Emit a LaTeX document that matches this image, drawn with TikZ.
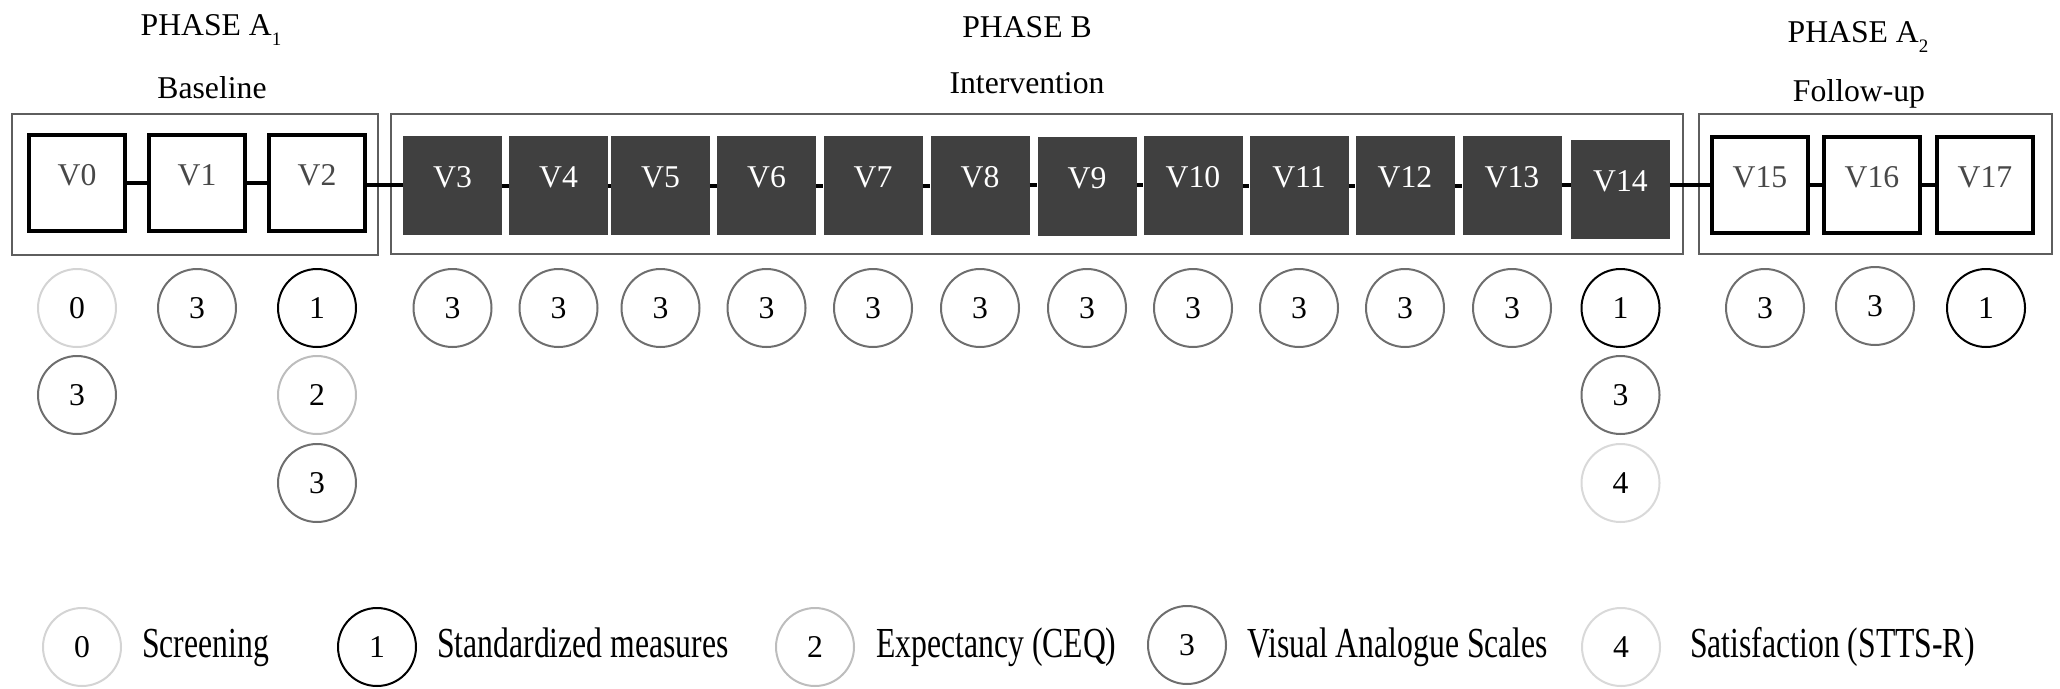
\documentclass[tikz,border=0pt]{standalone}
\usepackage{fontspec}
\setmainfont{Liberation Serif}
\newfontfamily\timesfont{Liberation Serif}
\usetikzlibrary{positioning}

\definecolor{sessiongray}{HTML}{404040}
\definecolor{visittext}{HTML}{484848}
\definecolor{framegray}{HTML}{5E5E5E}
\definecolor{meas0}{HTML}{D4D4D4}
\definecolor{meas1}{HTML}{000000}
\definecolor{meas2}{HTML}{BDBDBD}
\definecolor{meas3}{HTML}{6E6E6E}
\definecolor{meas4}{HTML}{D9D9D9}

\tikzset{
  visit/.style={rectangle, draw=black, line width=4pt, fill=white, minimum size=96pt, inner sep=0pt, text=visittext, text height=21pt, text depth=17pt},
  session/.style={rectangle, fill=sessiongray, minimum size=99pt, inner sep=0pt, text=white, text height=21pt, text depth=17pt},
  phasebox/.style={draw=framegray, line width=2pt},
  link/.style={draw=black, line width=4pt},
  measure/.style={circle, draw, line width=2pt, minimum size=78pt, inner sep=0pt},
  legtext/.style={anchor=base west, inner sep=0pt},
  title/.style={anchor=base, inner sep=0pt}
}
\newcommand{\tall}[1]{\scalebox{1}[1.35]{#1}}
\newcommand{\sub}[1]{\raisebox{-10pt}{\fontsize{19}{19}\selectfont #1}}

\begin{document}
\begin{tikzpicture}[x=1pt, y=-1pt, font=\timesfont\fontsize{31.7}{38}\selectfont]
    \useasboundingbox (0,0) rectangle (2060,688);

    % phase headings
    \node[title] at (211,35) (tA1) {PHASE A\sub{1}};
    \node[title] at (212,98) (sA1) {Baseline};
    \node[title] at (1027,37) (tB) {PHASE B};
    \node[title] at (1027,93) (sB) {Intervention};
    \node[title] at (1858,42) (tA2) {PHASE A\sub{2}};
    \node[title] at (1859,101) (sA2) {Follow-up};

    % phase frames
    \draw[phasebox] (12,114) rectangle (378,255);
    \draw[phasebox] (391,114) rectangle (1683,254);
    \draw[phasebox] (1699,114) rectangle (2052,254);

    % visits
    \node[visit] at (77,183) (V0) {V0};
    \node[visit] at (197,183) (V1) {V1};
    \node[visit] at (317,183) (V2) {V2};
    \node[session] at (452.5,185.5) (V3) {V3};
    \node[session] at (558.5,185.5) (V4) {V4};
    \node[session] at (660.5,185.5) (V5) {V5};
    \node[session] at (766.5,185.5) (V6) {V6};
    \node[session] at (873,185.5) (V7) {V7};
    \node[session] at (980,185.5) (V8) {V8};
    \node[session] at (1087,186.5) (V9) {V9};
    \node[session] at (1193,185.5) (V10) {V10};
    \node[session] at (1299,185.5) (V11) {V11};
    \node[session] at (1405,185.5) (V12) {V12};
    \node[session] at (1512,185.5) (V13) {V13};
    \node[session] at (1620.5,189) (V14) {V14};
    \node[visit] at (1760,185) (V15) {V15};
    \node[visit] at (1872,185) (V16) {V16};
    \node[visit] at (1985,185) (V17) {V17};

    \draw[link] (V0) -- (V1);
    \draw[link] (V1) -- (V2);
    \draw[link] (V2.east |- 0,185) -- (V3.west |- 0,185);
    \draw[link] (V3) -- (V4);
    \draw[link] (V4) -- (V5);
    \draw[link] (V5) -- (V6);
    \draw[link] (V6) -- (V7);
    \draw[link] (V7) -- (V8);
    \draw[link] (V8.east |- 0,185) -- (V9.west |- 0,185);
    \draw[link] (V9.east |- 0,185) -- (V10.west |- 0,185);
    \draw[link] (V10) -- (V11);
    \draw[link] (V11) -- (V12);
    \draw[link] (V12) -- (V13);
    \draw[link] (V13.east |- 0,185) -- (V14.west |- 0,185);
    \draw[link] (V14.east |- 0,185) -- (V15.west |- 0,185);
    \draw[link] (V15) -- (V16);
    \draw[link] (V16) -- (V17);

    % measures per visit
    \node[measure, draw=meas0] at (V0 |- 0,308) (m0a) {0};
    \node[measure, draw=meas3] at (V0 |- 0,395) (m0b) {3};
    \node[measure, draw=meas3] at (V1 |- 0,308) (m1a) {3};
    \node[measure, draw=meas1] at (V2 |- 0,308) (m2a) {1};
    \node[measure, draw=meas2] at (V2 |- 0,395) (m2b) {2};
    \node[measure, draw=meas3] at (V2 |- 0,483) (m2c) {3};
    \node[measure, draw=meas3] at (V3 |- 0,308) (m3a) {3};
    \node[measure, draw=meas3] at (V4 |- 0,308) (m4a) {3};
    \node[measure, draw=meas3] at (V5 |- 0,308) (m5a) {3};
    \node[measure, draw=meas3] at (V6 |- 0,308) (m6a) {3};
    \node[measure, draw=meas3] at (V7 |- 0,308) (m7a) {3};
    \node[measure, draw=meas3] at (V8 |- 0,308) (m8a) {3};
    \node[measure, draw=meas3] at (V9 |- 0,308) (m9a) {3};
    \node[measure, draw=meas3] at (V10 |- 0,308) (m10a) {3};
    \node[measure, draw=meas3] at (V11 |- 0,308) (m11a) {3};
    \node[measure, draw=meas3] at (V12 |- 0,308) (m12a) {3};
    \node[measure, draw=meas3] at (V13 |- 0,308) (m13a) {3};
    \node[measure, draw=meas1] at (V14 |- 0,308) (m14a) {1};
    \node[measure, draw=meas3] at (V14 |- 0,395) (m14b) {3};
    \node[measure, draw=meas4] at (V14 |- 0,483) (m14c) {4};
    \node[measure, draw=meas3] at (1765,308) (m15a) {3};
    \node[measure, draw=meas3] at (1875,306) (m16a) {3};
    \node[measure, draw=meas1] at (1986,308) (m17a) {1};

    % legend
    \node[measure, draw=meas0] at (82,647) (k0) {0};
    \node[legtext] at (142,657) (k0txt) {\tall{Screening}};
    \node[measure, draw=meas1] at (377,647) (k1) {1};
    \node[legtext] at (437,657) (k1txt) {\tall{Standardized measures}};
    \node[measure, draw=meas2] at (815,647) (k2) {2};
    \node[legtext] at (876,657) (k2txt) {\tall{Expectancy (CEQ)}};
    \node[measure, draw=meas3] at (1187,645) (k3) {3};
    \node[legtext] at (1247,657) (k3txt) {\tall{Visual Analogue Scales}};
    \node[measure, draw=meas4] at (1621,647) (k4) {4};
    \node[legtext] at (1690,657) (k4txt) {\tall{Satisfaction (STTS-R)}};

\end{tikzpicture}
\end{document}
